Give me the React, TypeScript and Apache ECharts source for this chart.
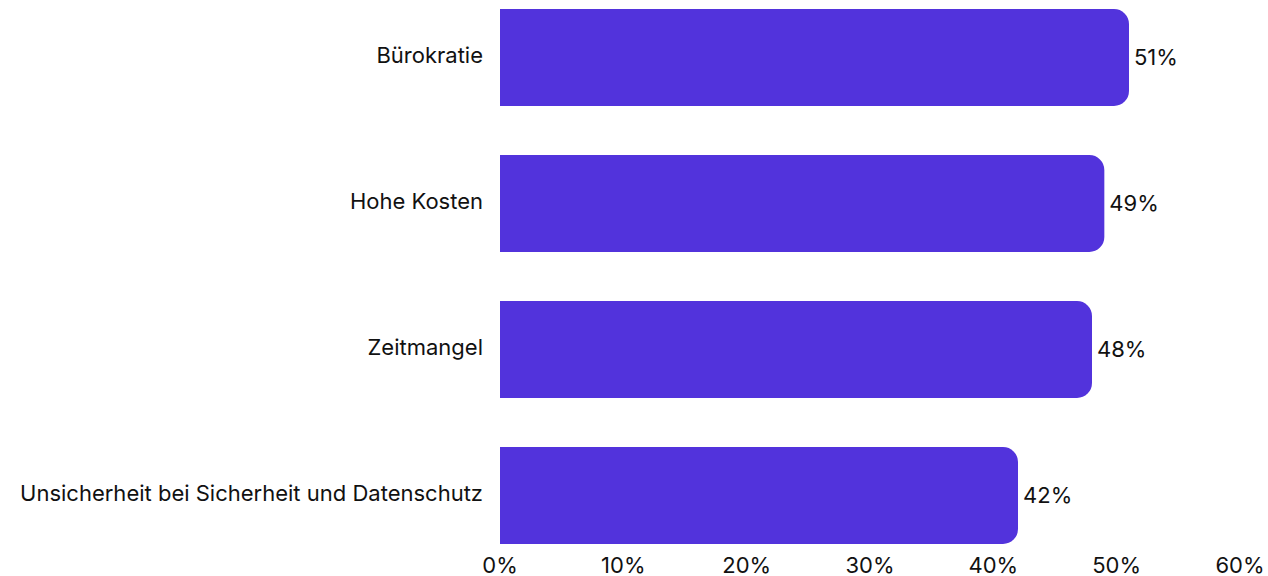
import React, { useEffect, useRef } from "react";
import * as echarts from "echarts";

const categories = [
  "Bürokratie",
  "Hohe Kosten",
  "Zeitmangel",
  "Unsicherheit bei Sicherheit und Datenschutz",
];
const values = [51, 49, 48, 42];
const xTicks = [0, 10, 20, 30, 40, 50, 60];

export default function App() {
  const ref = useRef<HTMLDivElement>(null);
  useEffect(() => {
    if (!ref.current) return;
    const chart = echarts.init(ref.current, undefined, { renderer: "svg" });
    chart.setOption({
      animation: false,
      grid: { left: 500, width: 740, top: -15.5, height: 584, outerBoundsMode: "none", containLabel: false },
      xAxis: {
        type: "value",
        min: xTicks[0],
        max: xTicks[xTicks.length - 1],
        interval: 10,
        offset: -23,
        axisLine: { show: false },
        axisTick: { show: false },
        splitLine: { show: false },
        axisLabel: {
          formatter: "{value}%",
          fontFamily: "Inter",
          fontSize: 22,
          color: "#111111",
          margin: 8,
        },
      },
      yAxis: {
        type: "category",
        inverse: true,
        data: categories,
        axisLine: { show: false },
        axisTick: { show: false },
        axisLabel: {
          formatter: (v: string) => `{a|${v}}`,
          margin: 17,
          rich: {
            a: {
              fontFamily: "Inter",
              fontSize: 22,
              color: "#111111",
              padding: [0, 0, 6, 0],
            },
          },
        },
      },
      series: [
        {
          type: "bar",
          data: values,
          barWidth: 97,
          itemStyle: { color: "#5233DC", borderRadius: [0, 15, 15, 0] },
          label: {
            show: true,
            position: "right",
            distance: 5,
            formatter: "{a|{c}%}",
            rich: {
              a: {
                fontFamily: "Inter",
                fontSize: 22,
                color: "#111111",
                padding: [0, 0, 2, 0],
              },
            },
          },
        },
      ],
    });
    return () => chart.dispose();
  }, []);
  return <div ref={ref} style={{ width: 1268, height: 576, position: "absolute", left: 0, top: 0 }} />;
}
